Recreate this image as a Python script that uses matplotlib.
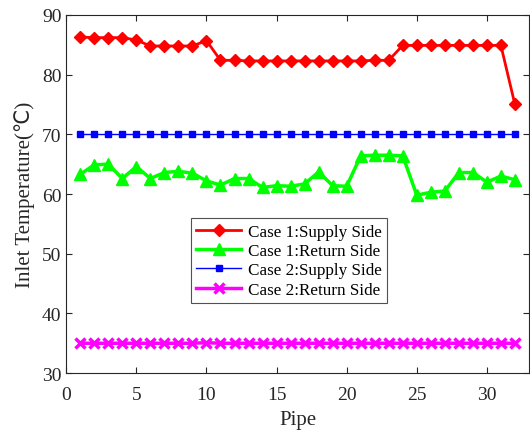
import matplotlib
matplotlib.use("Agg")
import matplotlib.pyplot as plt
import numpy as np

plt.rcParams['font.family'] = ['Liberation Serif', 'DejaVu Sans']

pipe = np.arange(1, 33)

case1_supply = [86.3, 86.2, 86.2, 86.2, 85.8, 84.8, 84.8, 84.8, 84.8, 85.7,
                82.4, 82.4, 82.3, 82.3, 82.3, 82.3, 82.3, 82.3, 82.3, 82.3,
                82.3, 82.4, 82.4, 84.9, 84.9, 84.9, 84.9, 84.9, 84.9, 84.9,
                84.9, 75.0]
case1_return = [63.3, 64.9, 65.0, 62.6, 64.6, 62.6, 63.6, 63.8, 63.5, 62.2,
                61.5, 62.6, 62.6, 61.1, 61.4, 61.3, 61.7, 63.7, 61.4, 61.3,
                66.4, 66.5, 66.5, 66.4, 59.8, 60.3, 60.5, 63.6, 63.6, 62.0,
                63.0, 62.4]
case2_supply = [70.0] * 32
case2_return = [35.0] * 9 + [35.1] + [35.0] * 22

labels = ['Case 1:Supply Side', 'Case 1:Return Side',
          'Case 2:Supply Side', 'Case 2:Return Side']

fig = plt.figure(figsize=(5.3, 4.31), dpi=100)
ax = fig.add_axes([0.125, 0.132, 0.873, 0.831])

ax.plot(pipe, case1_supply, '-D', color='red', lw=2, ms=6, label=labels[0])
ax.plot(pipe, case1_return, '-^', color='#00ff00', lw=2.5, ms=9, label=labels[1])
ax.plot(pipe, case2_supply, '-s', color='blue', lw=1, ms=5, label=labels[2])
ax.plot(pipe, case2_return, '-x', color='magenta', lw=2.5, ms=6.5, mew=2.5, label=labels[3])

ax.set_xlim(0, 33)
ax.set_ylim(30, 90)
ax.set_xticks(np.arange(0, 31, 5))
ax.set_yticks(np.arange(30, 91, 10))
ax.tick_params(direction='in', top=True, right=True, labelsize=14, length=4,
               color='#262626', labelcolor='#262626')
ax.tick_params(axis='x', pad=9)
for s in ax.spines.values():
    s.set_color('#262626')
    s.set_linewidth(0.8)

ax.set_xlabel('Pipe', fontsize=15, color='#262626', labelpad=5)
ax.set_ylabel('Inlet Temperature(℃)', fontsize=15, color='#262626', labelpad=5)

leg = ax.legend(loc='lower left', bbox_to_anchor=(0.27, 0.196), fontsize=12.3,
                frameon=True, fancybox=False, handlelength=2.6,
                borderpad=0.3, labelspacing=0.2, handletextpad=0.4,
                borderaxespad=0)
leg.get_frame().set_edgecolor('#262626')
leg.get_frame().set_linewidth(0.8)

fig.savefig('out.png', dpi=100)
